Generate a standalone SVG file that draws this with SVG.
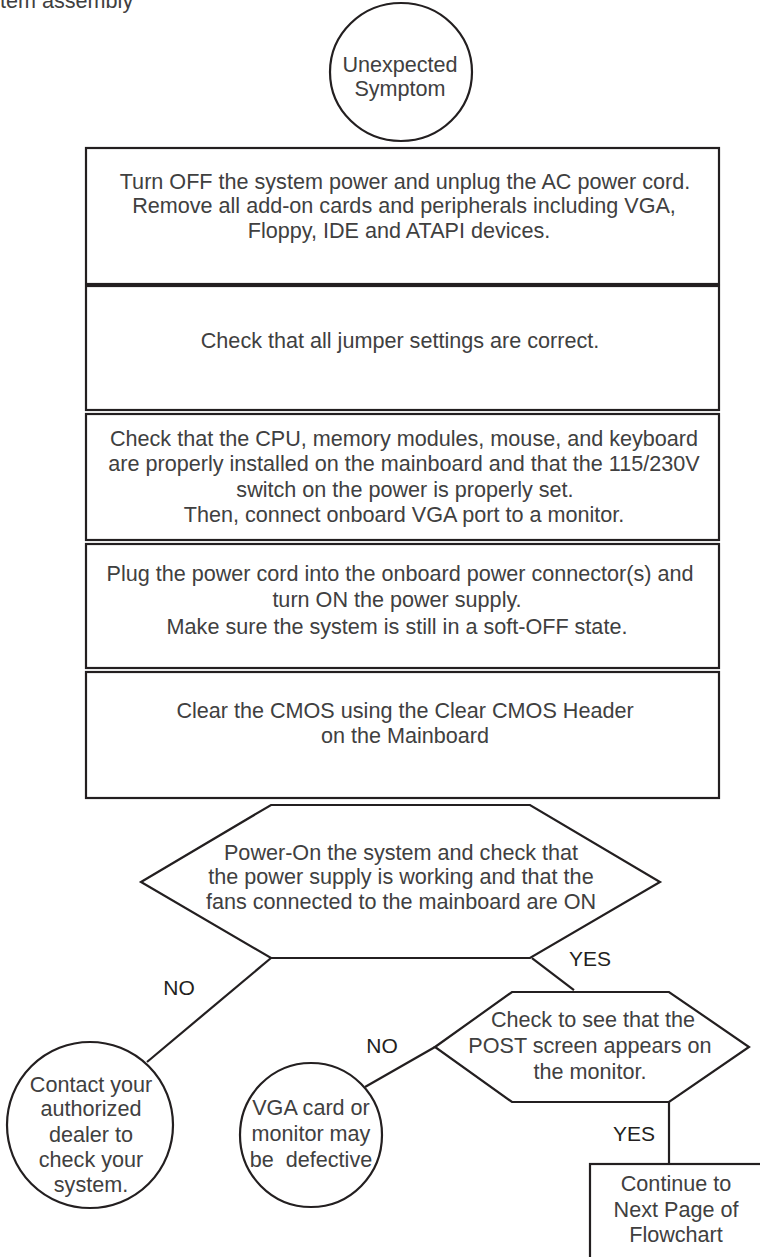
<svg xmlns="http://www.w3.org/2000/svg" width="760" height="1257" viewBox="0 0 760 1257">
<style>
.t{font-family:"Liberation Sans",Arial,sans-serif;font-size:21.6px;fill:#404040;text-anchor:middle}
.l{font-family:"Liberation Sans",Arial,sans-serif;font-size:21px;fill:#231f20;text-anchor:middle}
.s{fill:#fff;stroke:#231f20;stroke-width:2.2}
.c{fill:none;stroke:#231f20;stroke-width:2.2}
</style>
<rect width="760" height="1257" fill="#fff"/>
<text x="0" y="8" style="font-family:'Liberation Sans',Arial,sans-serif;font-size:21.6px;fill:#404040">tem assembly</text>

<g id="connectors">
<line class="c" x1="271" y1="958" x2="147" y2="1062"/>
<line class="c" x1="532" y1="958" x2="574" y2="990"/>
<line class="c" x1="435" y1="1047" x2="365" y2="1087"/>
<line class="c" x1="669" y1="1102" x2="669" y2="1164"/>
<text class="l" x="179" y="995">NO</text>
<text class="l" x="590" y="966">YES</text>
<text class="l" x="382" y="1053">NO</text>
<text class="l" x="634" y="1141">YES</text>
</g>

<g id="start">
<ellipse class="s" cx="401" cy="72" rx="71" ry="69"/>
<text class="t" x="400" y="72">Unexpected</text>
<text class="t" x="400" y="96">Symptom</text>
</g>

<g id="step1">
<rect class="s" x="86" y="148" width="633" height="136"/>
<text class="t" x="405" y="189">Turn OFF the system power and unplug the AC power cord.</text>
<text class="t" x="404" y="213">Remove all add-on cards and peripherals including VGA,</text>
<text class="t" x="399" y="238">Floppy, IDE and ATAPI devices.</text>
</g>

<g id="step2">
<rect class="s" x="86" y="286" width="633" height="124"/>
<text class="t" x="400" y="348">Check that all jumper settings are correct.</text>
</g>

<g id="step3">
<rect class="s" x="86" y="414" width="633" height="126"/>
<text class="t" x="404" y="446">Check that the CPU, memory modules, mouse, and keyboard</text>
<text class="t" x="404" y="471">are properly installed on the mainboard and that the 115/230V</text>
<text class="t" x="405" y="497">switch on the power is properly set.</text>
<text class="t" x="404" y="522">Then, connect onboard VGA port to a monitor.</text>
</g>

<g id="step4">
<rect class="s" x="86" y="544" width="633" height="124"/>
<text class="t" x="400" y="581">Plug the power cord into the onboard power connector(s) and</text>
<text class="t" x="397" y="607">turn ON the power supply.</text>
<text class="t" x="397" y="634">Make sure the system is still in a soft-OFF state.</text>
</g>

<g id="step5">
<rect class="s" x="86" y="672" width="633" height="126"/>
<text class="t" x="405" y="718">Clear the CMOS using the Clear CMOS Header</text>
<text class="t" x="405" y="743">on the Mainboard</text>
</g>

<g id="decision1">
<polygon class="s" points="141,882 271,805 530,805 660,882 530,958 271,958"/>
<text class="t" x="401" y="860">Power-On the system and check that</text>
<text class="t" x="401" y="884">the power supply is working and that the</text>
<text class="t" x="401" y="909">fans connected to the mainboard are ON</text>
</g>

<g id="dealer">
<ellipse class="s" cx="90" cy="1125" rx="83" ry="83"/>
<text class="t" x="91" y="1092">Contact your</text>
<text class="t" x="91" y="1116">authorized</text>
<text class="t" x="91" y="1142">dealer to</text>
<text class="t" x="91" y="1167">check your</text>
<text class="t" x="91" y="1192">system.</text>
</g>

<g id="decision2">
<polygon class="s" points="435,1047 512,992 669,992 749,1047 669,1102 512,1102"/>
<text class="t" x="593" y="1027">Check to see that the</text>
<text class="t" x="590" y="1053">POST screen appears on</text>
<text class="t" x="590" y="1079">the monitor.</text>
</g>

<g id="vga">
<ellipse class="s" cx="311" cy="1135" rx="71" ry="72"/>
<text class="t" x="311" y="1115">VGA card or</text>
<text class="t" x="311" y="1141">monitor may</text>
<text class="t" x="311" y="1167" xml:space="preserve">be  defective</text>
</g>

<g id="next">
<rect class="s" x="590" y="1164" width="180" height="100"/>
<text class="t" x="676" y="1191">Continue to</text>
<text class="t" x="676" y="1217">Next Page of</text>
<text class="t" x="676" y="1242">Flowchart</text>
</g>
</svg>
